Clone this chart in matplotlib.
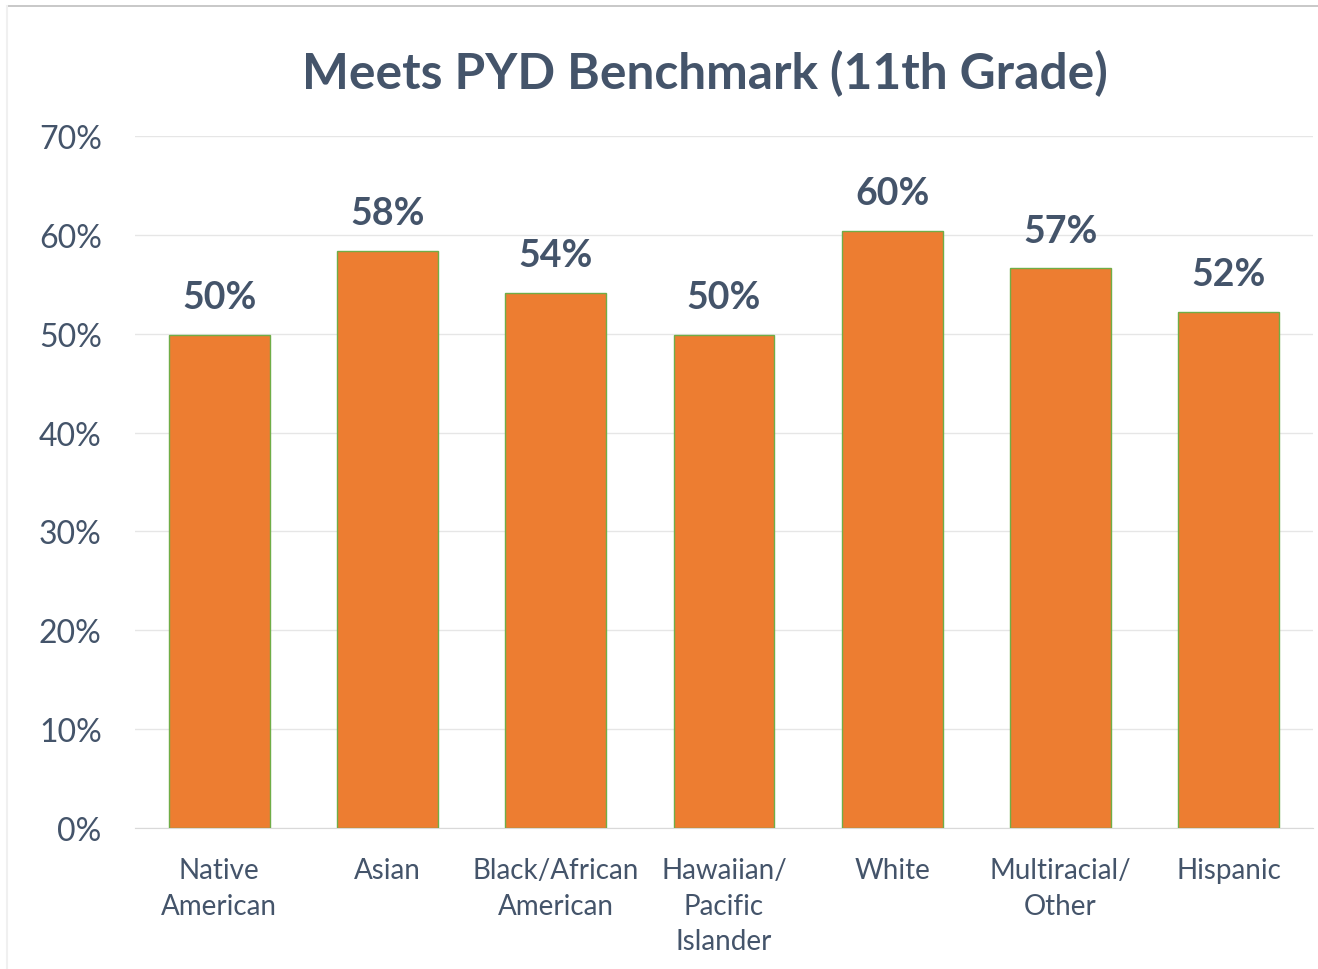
import numpy as np
import matplotlib.pyplot as plt
from matplotlib.ticker import PercentFormatter

categories = ['Native\nAmerican', 'Asian', 'Black/African\nAmerican', 'Hawaiian/\nPacific\nIslander',
              'White', 'Multiracial/\nOther', 'Hispanic']
values = [49.9, 58.4, 54.1, 49.9, 60.4, 56.6, 52.2]
labels = ['50%', '58%', '54%', '50%', '60%', '57%', '52%']

TEXT = '#44546A'
plt.rcParams['font.family'] = ['Lato', 'DejaVu Sans']

fig = plt.figure(figsize=(13.18, 9.70), dpi=100)
# thin frame lines like the source screenshot
fig.add_artist(plt.Line2D([0.006, 1.0], [0.993, 0.993], color='#BFBFBF', lw=1.2))
fig.add_artist(plt.Line2D([0.005, 0.005], [0.0, 0.993], color='#F0F0F0', lw=1.5))

ax = fig.add_axes([135 / 1318, 1 - 829 / 970, (1313 - 135) / 1318, (829 - 137) / 970])
x = np.arange(len(categories))
bars = ax.bar(x, values, width=0.6, color='#ED7D31', edgecolor='#70AD47', linewidth=1, zorder=3)

for xi, v, lab in zip(x, values, labels):
    ax.text(xi, v + 2.1, lab, ha='center', va='bottom', fontsize=27, fontweight='bold', color=TEXT)

ax.set_xlim(-0.5, len(categories) - 0.5)
ax.set_ylim(0, 70)
ax.set_yticks(np.arange(0, 71, 10))
ax.yaxis.set_major_formatter(PercentFormatter(decimals=0))
ax.grid(axis='y', color='#E6E6E6', lw=1, zorder=0)
for s in ['top', 'right', 'left']:
    ax.spines[s].set_visible(False)
ax.spines['bottom'].set_color('#D9D9D9')
ax.set_xticks(x)
ax.set_xticklabels(categories, fontsize=20, color=TEXT, linespacing=1.45, va='top')
ax.tick_params(axis='x', length=0, pad=21)
ax.tick_params(axis='y', length=0, labelsize=23, labelcolor=TEXT, pad=24)

fig.text(705 / 1318, 1 - 74 / 970, 'Meets PYD Benchmark (11th Grade)', ha='center', va='center',
         fontsize=35.7, fontweight='bold', color=TEXT)

fig.savefig('out.png', dpi=100)
